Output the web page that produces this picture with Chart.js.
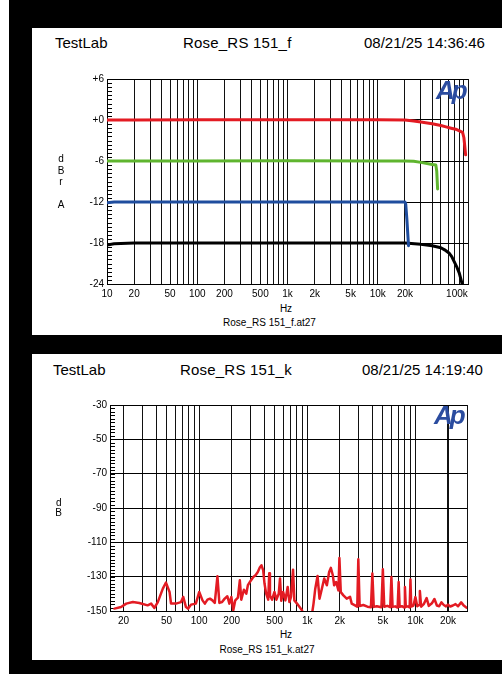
<!DOCTYPE html>
<html><head><meta charset="utf-8">
<script src="https://cdn.jsdelivr.net/npm/chart.js@4.4.1/dist/chart.umd.min.js"></script>
<style>
html,body{margin:0;padding:0;background:#fff;}
body{width:502px;height:674px;position:relative;overflow:hidden;font-family:"Liberation Sans",Arial,sans-serif;}
.frame{position:absolute;left:9px;top:0;width:493px;height:674px;background:#000;}
.panel{position:absolute;left:32px;width:470px;background:#fff;}
.t{position:absolute;white-space:pre;color:#000;}
.h{font-size:15px;line-height:15px;}
.s{font-size:10px;line-height:10px;}
.c{transform:translateX(-50%);}
.ap{position:absolute;font:italic bold 26px "Liberation Sans",Arial,sans-serif;color:#2b4c9f;letter-spacing:-3px;line-height:26px;}
canvas{position:absolute;}
</style></head>
<body>
<div class="frame"></div>
<div class="panel" style="top:28px;height:307px;"></div>
<div class="panel" style="top:354px;height:306px;"></div>

<canvas id="top" width="444" height="230" style="left:50px;top:70px;"></canvas>
<canvas id="bot" width="442" height="231" style="left:50px;top:396px;"></canvas>

<div class="t h" style="left:55px;top:35px;">TestLab</div>
<div class="t h" style="left:183px;top:35px;letter-spacing:0.2px;">Rose_RS 151_f</div>
<div class="t h" style="left:364px;top:35px;">08/21/25 14:36:46</div>
<div class="t s c" style="left:61px;top:154px;">d</div>
<div class="t s c" style="left:61px;top:165.5px;">B</div>
<div class="t s c" style="left:61px;top:176.5px;">r</div>
<div class="t s c" style="left:61px;top:200px;">A</div>
<div class="t s c" style="left:286px;top:304px;">Hz</div>
<div class="t s c" style="left:269.5px;top:317.5px;">Rose_RS 151_f.at27</div>
<div class="ap" style="left:436px;top:77px;">Ap</div>

<div class="t h" style="left:53px;top:361.5px;">TestLab</div>
<div class="t h" style="left:180px;top:361.5px;letter-spacing:0.2px;">Rose_RS 151_k</div>
<div class="t h" style="left:362px;top:361.5px;">08/21/25 14:19:40</div>
<div class="t s c" style="left:58.7px;top:497.5px;">d</div>
<div class="t s c" style="left:58.7px;top:508px;">B</div>
<div class="t s c" style="left:286px;top:630px;">Hz</div>
<div class="t s c" style="left:267px;top:644.5px;">Rose_RS 151_k.at27</div>
<div class="ap" style="left:434px;top:402px;">Ap</div>

<script>
// ---------- Top chart data (frequency response, dBrA) ----------
const redFreq   = [10, 20, 100, 1000, 10000, 20000, 25000, 30000, 40000, 50000, 57000, 65000, 75000, 87000, 90000, 94000];
const redLevel  = [0, 0, 0.03, 0.05, 0.02, 0, -0.15, -0.3, -0.55, -0.8, -1.0, -1.2, -1.4, -1.8, -2.6, -5.1];
const greenFreq = [10, 100, 1000, 10000, 20000, 25000, 30000, 40000, 44000, 45000, 46000];
const greenLevel= [-6, -6, -5.98, -6, -6, -6.05, -6.2, -6.5, -6.6, -7.5, -10.1];
const blueFreq  = [10, 12, 100, 1000, 10000, 20000, 20400, 21000, 21900];
const blueLevel = [-12.1, -12, -12, -12, -12, -12, -12.3, -14.5, -18.4];
const blackFreq = [10, 12, 20, 100, 1000, 10000, 20000, 30000, 40000, 50000, 55000, 62000, 66000, 70000, 75000, 80000, 86000, 90000];
const blackLevel= [-18.3, -18.1, -18, -18, -18, -18, -18, -18.2, -18.4, -18.7, -19, -19.5, -20, -20.7, -21.5, -22.4, -24, -25.2];

const topYTicks = [-24, -18, -12, -6, 0, 6];
const topXLabelVals = [10, 20, 50, 100, 200, 500, 1000, 2000, 5000, 10000, 20000, 100000];
const topXLabelText = ['10', '20', '50', '100', '200', '500', '1k', '2k', '5k', '10k', '20k', '100k        '];

// ---------- Bottom chart data (residual spectrum, dB) ----------
const kFreq = [16.5, 19, 21.2, 24.4, 28, 33.4, 36, 38.6, 41.5, 46.2, 49.4, 53.3, 55, 61, 68, 71.3, 75.6, 79.3, 84.2, 93.3, 100.3,
  107.5, 113, 119.5, 126, 132.8, 139.6, 147.7, 154, 163, 172.5, 182.5, 190.5, 198.7, 207, 216, 228.5, 238, 245.5, 259.5, 273,
  282.5, 299, 317, 332.5, 349, 364, 377.5, 391.5, 402.5, 417, 435.5, 445, 452, 473, 497.5, 519, 545, 560, 575, 598,
  628, 659, 684, 708, 739, 760, 804, 849, 894, 920, 1105,
  1143, 1186, 1245, 1298, 1365, 1435, 1518, 1594, 1652, 1724, 1773, 1850, 1942, 1983, 2042, 2159, 2317, 2487, 2577, 2765,
  2900, 2966, 3050, 3300, 3600, 3880, 4000, 4120, 4400, 4850, 5000, 5150, 5500, 5850, 6000, 6150, 6500, 6850, 7000, 7150,
  7500, 7850, 8000, 8150, 8500, 8850, 9000, 9150, 9600, 10000, 10400, 10800, 11000, 11300, 12000, 12700, 13300, 14200, 15000, 15800,
  16600, 17400, 18300, 19200, 20000, 21000, 22200, 23500, 24800, 26500, 27800, 29600];
const kLevel = [-148.6, -147.7, -145.7, -144.8, -145.3, -146.7, -145.7, -148.2, -144.8, -137, -133.5, -138.9, -145.7, -145.7, -144.8, -141.8, -147.7, -148.6, -146.3, -145.7, -138.9,
  -143.8, -145.7, -143.4, -142.8, -143.8, -145.3, -129.8, -145.3, -144.8, -142.8, -141.4, -145.7, -141.8, -149.6, -143.8, -142.2, -132.1, -143.4, -137.6, -139.9,
  -135, -132.5, -130.2, -129.2, -127.3, -124.7, -123.4, -126.3, -134, -139.9, -143.4, -128, -141, -143.4, -138.9, -143.4, -139.9, -131, -144, -138.9,
  -143.8, -136, -144.8, -141.8, -125.9, -143.8, -145.7, -147.7, -149.6, -152, -152,
  -145.7, -137, -129.6, -142.8, -137, -131.1, -135, -127.3, -124.9, -129.2, -135, -133.1, -138, -119.1, -139, -140.9, -142.8, -141.8, -145.7, -146.7,
  -147.5, -119.9, -147.1, -146.5, -147.5, -147.8, -128.2, -147.6, -147.2, -147.8, -125.7, -147.5, -147, -147.8, -130.2, -147.6, -147.3, -148, -133.1, -147.5,
  -147.2, -147.9, -136, -147.6, -147.3, -147.9, -131.6, -147.4, -146.8, -141.9, -147.2, -146.5, -138.4, -147.5, -145.8, -142.5, -147, -145.5, -143, -146.8,
  -147.2, -145, -146.5, -147.3, -146.3, -147.4, -146.8, -146, -147.2, -145, -146.6, -148];

const botYTicks = [-150, -130, -110, -90, -70, -50, -30];
const botXLabelVals = [20, 50, 100, 200, 500, 1000, 2000, 5000, 10000, 20000];
const botXLabelText = ['20', '50', '100', '200', '500', '1k', '2k', '5k', '10k', '20k'];

// grid positions (1..9 per decade)
function decadeGrid(minV, maxV) {
  const out = [];
  for (let e = 0; e <= 6; e++) for (let m = 1; m <= 9; m++) {
    const v = m * Math.pow(10, e);
    if (v >= minV && v <= maxV) out.push(v);
  }
  if (out[out.length - 1] !== maxV) out.push(maxV);
  return out;
}

const tickFont = { family: 'Liberation Sans, Arial, sans-serif', size: 10 };

function minorTickPlugin(step, len) {
  return {
    id: 'minorTicks',
    beforeDatasetsDraw(chart) {
      const y = chart.scales.y, a = chart.chartArea, ctx = chart.ctx;
      ctx.save();
      ctx.strokeStyle = '#000';
      ctx.lineWidth = 1;
      ctx.beginPath();
      const n = Math.round((y.max - y.min) / step);
      for (let i = 1; i < n; i++) {
        const v = y.min + i * step;
        const py = Math.round(y.getPixelForValue(v)) + 0.5;
        ctx.moveTo(a.left, py);
        ctx.lineTo(a.left + len, py);
      }
      ctx.stroke();
      ctx.restore();
    }
  };
}

function toXY(fs, ls) { return fs.map((f, i) => ({ x: f, y: ls[i] })); }

function buildChart(id, o) {
  const grid = decadeGrid(o.xmin, o.xmax);
  return new Chart(document.getElementById(id), {
    type: 'line',
    data: { datasets: o.datasets },
    options: {
      responsive: false, animation: false, events: [],
      layout: { padding: { left: 0, right: 25, top: 9, bottom: 0 } },
      plugins: { legend: { display: false }, tooltip: { enabled: false } },
      elements: { point: { radius: 0 }, line: { tension: 0, borderJoinStyle: 'round', borderCapStyle: 'round' } },
      scales: {
        x: {
          type: 'logarithmic', min: o.xmin, max: o.xmax,
          afterBuildTicks: s => { s.ticks = grid.map(v => ({ value: v })); },
          afterFit: s => { s.height = 16; },
          ticks: {
            autoSkip: false, maxRotation: 0, minRotation: 0, padding: 4, color: '#000', font: tickFont,
            callback: v => { const i = o.xLabelVals.indexOf(v); return i >= 0 ? o.xLabelText[i] : ''; }
          },
          grid: {
            drawTicks: false,
            color: '#111',
            lineWidth: ctx => (o.thick && ctx.tick && ctx.tick.value === o.thick) ? 2 : 1
          },
          border: { display: true, color: '#000', width: 1 }
        },
        y: {
          type: 'linear', min: o.ymin, max: o.ymax,
          afterBuildTicks: s => { s.ticks = o.yTicks.map(v => ({ value: v })); },
          afterFit: s => { s.width = o.yWidth; },
          ticks: {
            padding: 3, color: '#000', font: tickFont,
            callback: v => o.plus ? (v > 0 ? '+' + v : (v === 0 ? '+0' : String(v))) : String(v)
          },
          grid: { drawTicks: false, color: '#000', lineWidth: 1 },
          border: { display: true, color: '#000', width: 1 }
        }
      }
    },
    plugins: [minorTickPlugin(o.minorStep, 5)]
  });
}

buildChart('top', {
  xmin: 10, xmax: 100000, ymin: -24, ymax: 6, yTicks: topYTicks, yWidth: 57, plus: true, minorStep: 0.6,
  xLabelVals: topXLabelVals, xLabelText: topXLabelText,
  datasets: [
    { data: toXY(redFreq, redLevel), borderColor: '#e31b23', borderWidth: 3 },
    { data: toXY(greenFreq, greenLevel), borderColor: '#5fb52f', borderWidth: 3 },
    { data: toXY(blueFreq, blueLevel), borderColor: '#1f4d9e', borderWidth: 3 },
    { data: toXY(blackFreq, blackLevel), borderColor: '#000000', borderWidth: 3 }
  ]
});

buildChart('bot', {
  xmin: 15, xmax: 30000, ymin: -150, ymax: -30, yTicks: botYTicks, yWidth: 60, plus: false, minorStep: 2,
  xLabelVals: botXLabelVals, xLabelText: botXLabelText, thick: 20000,
  datasets: [
    { data: toXY(kFreq, kLevel), borderColor: '#e31b23', borderWidth: 2.5 }
  ]
});
</script>
</body></html>
